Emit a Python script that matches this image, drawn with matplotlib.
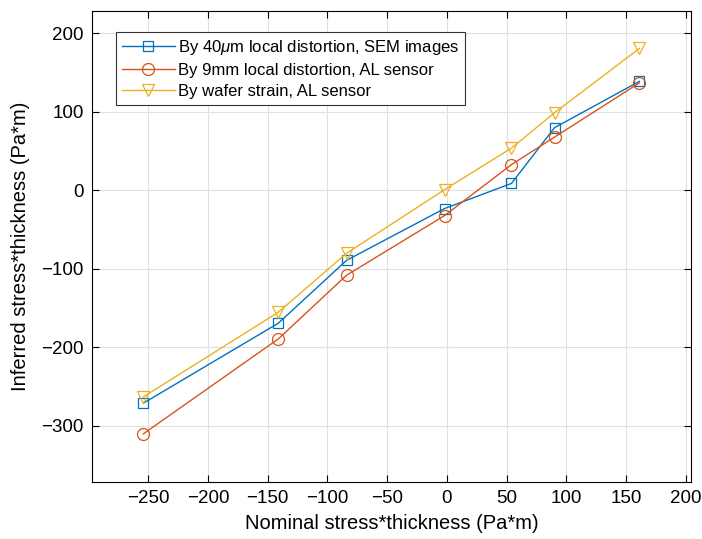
import matplotlib.pyplot as plt

plt.rcParams['font.family'] = ['Liberation Sans', 'DejaVu Sans']
plt.rcParams['mathtext.fontset'] = 'custom'
plt.rcParams['mathtext.it'] = 'Liberation Sans:italic'
plt.rcParams['mathtext.rm'] = 'Liberation Sans'

# data
nominal = [-254, -141, -84, -2, 54, 90, 161]
sem_40um = [-271, -169, -89, -23, 9, 80, 139]
al_9mm = [-310, -189, -108, -32, 33, 68, 137]
wafer_strain = [-263, -155, -80, 1, 54, 99, 181]

labels = [r'By 40$\mu$m local distortion, SEM images',
          'By 9mm local distortion, AL sensor',
          'By wafer strain, AL sensor']
colors = ['#0072BD', '#D95319', '#EDB120']
markers = ['s', 'o', 'v']
msizes = [7.6, 8.6, 9.0]

fig = plt.figure(figsize=(7.02, 5.39), dpi=100)
ax = fig.add_axes([0.131, 0.1063, 0.853, 0.8738])

for ys, lab, c, m, ms in zip([sem_40um, al_9mm, wafer_strain], labels, colors, markers, msizes):
    ax.plot(nominal, ys, color=c, marker=m, markersize=ms, markerfacecolor='none',
            markeredgewidth=0.9, linewidth=1.0, label=lab)

ax.set_xlim(-297, 204)
ax.set_ylim(-371, 229)
ax.set_xticks(range(-250, 201, 50))
ax.set_yticks(range(-300, 201, 100))
ax.grid(True, color='#e0e0e0', linewidth=0.8)
ax.tick_params(direction='in', top=True, right=True, labelsize=13.5, length=5, width=0.8, pad=6)
for s in ax.spines.values():
    s.set_linewidth(0.8)
ax.set_xlabel('Nominal stress*thickness (Pa*m)', fontsize=14.5, labelpad=5)
ax.set_ylabel('Inferred stress*thickness (Pa*m)', fontsize=14.5, labelpad=8)

leg = ax.legend(loc='upper left', bbox_to_anchor=(0.04, 0.954), borderaxespad=0,
                fontsize=12, fancybox=False, framealpha=1, edgecolor='#333333',
                handlelength=3.2, borderpad=0.35, labelspacing=0.35, handletextpad=0.2)
leg.get_frame().set_linewidth(0.8)

fig.savefig('out.png', dpi=100)
